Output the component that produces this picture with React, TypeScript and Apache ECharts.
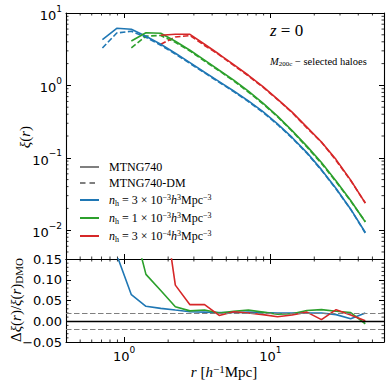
import React, { useEffect, useRef } from "react";
import * as echarts from "echarts";

// radial bins r [h^-1 Mpc]
const rBins = [0.71, 0.89, 1.12, 1.41, 1.78, 2.24, 2.82, 3.55, 4.47, 5.62, 7.08, 8.91, 11.2, 14.1, 17.8, 22.4, 28.2, 35.5, 44.7];

// xi(r), MTNG740 (solid)
const blueXi = [4.3, 6.15, 5.96, 4.77, 3.7, 2.78, 2.06, 1.52, 1.127, 0.836, 0.612, 0.434, 0.294, 0.191, 0.118, 0.0686, 0.0377, 0.0195, 0.0093];
const greenXi = [null, null, 4.11, 5.33, 5.25, 4.07, 3.06, 2.23, 1.62, 1.18, 0.832, 0.568, 0.376, 0.237, 0.145, 0.0859, 0.0477, 0.0257, 0.013];
const redXi = [null, null, null, null, 4.92, 5.08, 5.08, 3.7, 2.69, 1.93, 1.38, 0.959, 0.645, 0.427, 0.265, 0.165, 0.0944, 0.0492, 0.0237];

// xi(r), MTNG740-DM (dashed)
const blueXiDM = [3.28, 5.3, 5.6, 4.6, 3.59, 2.71, 2.01, 1.49, 1.104, 0.819, 0.599, 0.425, 0.288, 0.187, 0.116, 0.0673, 0.0371, 0.0194, 0.0091];
const greenXiDM = [null, null, 3.29, 4.79, 4.89, 3.93, 2.99, 2.17, 1.59, 1.15, 0.81, 0.556, 0.37, 0.233, 0.141, 0.0836, 0.0466, 0.0252, 0.0131];
const redXiDM = [null, null, null, null, 3.7, 4.67, 4.88, 3.56, 2.65, 1.89, 1.35, 0.944, 0.638, 0.421, 0.259, 0.164, 0.0918, 0.0485, 0.0237];

// relative difference Δξ/ξ_DMO
const blueRatio = [0.31, 0.16, 0.064, 0.036, 0.031, 0.027, 0.023, 0.022, 0.021, 0.021, 0.022, 0.021, 0.02, 0.02, 0.02, 0.02, 0.016, 0.006, 0.02];
const greenRatio = [null, null, 0.25, 0.113, 0.074, 0.035, 0.025, 0.027, 0.02, 0.024, 0.027, 0.022, 0.017, 0.018, 0.026, 0.028, 0.024, 0.021, -0.006];
const redRatio = [null, null, null, null, 0.33, 0.087, 0.04, 0.04, 0.014, 0.023, 0.02, 0.016, 0.011, 0.015, 0.022, 0.004, 0.028, 0.015, 0.001];

// reference lines in the lower panel
const zeroLine = 0;
const bandLines = [0.02, -0.02];

// minor tick positions
const xMinorTicks = [0.5, 0.6, 0.7, 0.8, 0.9, 2, 3, 4, 5, 6, 7, 8, 9, 20, 30, 40, 50];
const yMinorTicks = [0.005, 0.006, 0.007, 0.008, 0.009, 0.02, 0.03, 0.04, 0.05, 0.06, 0.07, 0.08, 0.09, 0.2, 0.3, 0.4, 0.5, 0.6, 0.7, 0.8, 0.9, 2, 3, 4, 5, 6, 7, 8, 9];
const ratioMinorTicks = [-0.04, -0.03, -0.02, -0.01, 0.01, 0.02, 0.03, 0.04, 0.06, 0.07, 0.08, 0.09, 0.11, 0.12, 0.13, 0.14];

const legendNames = ["MTNG740", "MTNG740-DM", "nh3e-3", "nh1e-3", "nh3e-4"];
const legendLabels: Record<string, string> = {
  "MTNG740": "{t|MTNG740}",
  "MTNG740-DM": "{t|MTNG740-DM}",
  "nh3e-3": "{i|n}{sub|h}{t| = 3 × 10}{sup|−3}{i|h}{sup|3}{t|Mpc}{sup|−3}",
  "nh1e-3": "{i|n}{sub|h}{t| = 1 × 10}{sup|−3}{i|h}{sup|3}{t|Mpc}{sup|−3}",
  "nh3e-4": "{i|n}{sub|h}{t| = 3 × 10}{sup|−4}{i|h}{sup|3}{t|Mpc}{sup|−3}",
};

const BLUE = "#1f77b4";
const GREEN = "#2ca02c";
const RED = "#d62728";
const GRAY = "#7f7f7f";
const SERIF = "'Liberation Serif', 'DejaVu Serif', serif";
const SANS = "'DejaVu Sans', sans-serif";

const pairs = (ys: (number | null)[]) =>
  rBins.map((r, i) => [r, ys[i]]).filter((p) => p[1] !== null);

const pow10 = (v: number) => {
  const e = Math.round(Math.log10(v));
  return `{b|10}{s|${e < 0 ? "−" + -e : e}}`;
};

const tickRich = {
  b: { fontFamily: SANS, fontSize: 13, color: "#000", lineHeight: 18, verticalAlign: "bottom" },
  s: { fontFamily: SANS, fontSize: 9, color: "#000", lineHeight: 10, verticalAlign: "top" },
};

const serifRich = (size: number) => ({
  t: { fontFamily: SERIF, fontSize: size, color: "#000", lineHeight: size + 2 },
  i: { fontFamily: SERIF, fontSize: size, fontStyle: "italic", color: "#000", lineHeight: size + 2 },
  sup: { fontFamily: SERIF, fontSize: Math.round(size * 0.7), color: "#000", lineHeight: Math.round(size * 0.75), verticalAlign: "top" },
  sub: { fontFamily: SERIF, fontSize: Math.round(size * 0.7), color: "#000", lineHeight: Math.round(size * 0.5), verticalAlign: "bottom" },
});

const axisLine = { show: true, onZero: false, lineStyle: { color: "#000", width: 1.1 } };
const axisTick = { show: true, inside: true, length: 5, lineStyle: { color: "#000", width: 1 } };

const tickLine = (x1: number, y1: number, x2: number, y2: number) => ({
  type: "line",
  shape: { x1, y1, x2, y2 },
  style: { stroke: "#000", lineWidth: 0.8 },
});

const xMinorSeries = (xi: number, yi: number, yRef: number) => ({
  type: "custom",
  xAxisIndex: xi,
  yAxisIndex: yi,
  silent: true,
  data: xMinorTicks.map((v) => [v, yRef]),
  renderItem: (params: any, api: any) => {
    const x = api.coord([api.value(0), yRef])[0];
    const cs = params.coordSys;
    return {
      type: "group",
      children: [tickLine(x, cs.y, x, cs.y + 2.5), tickLine(x, cs.y + cs.height, x, cs.y + cs.height - 2.5)],
    };
  },
});

const yMinorSeries = (xi: number, yi: number, ticks: number[]) => ({
  type: "custom",
  xAxisIndex: xi,
  yAxisIndex: yi,
  silent: true,
  data: ticks.map((v) => [1, v]),
  renderItem: (params: any, api: any) => {
    const y = api.coord([1, api.value(1)])[1];
    const cs = params.coordSys;
    return {
      type: "group",
      children: [tickLine(cs.x, y, cs.x + 2.5, y), tickLine(cs.x + cs.width, y, cs.x + cs.width - 2.5, y)],
    };
  },
});

const lineSeries = (name: string, data: any[], color: string, dashed: boolean, xi: number, yi: number) => ({
  type: "line",
  name,
  xAxisIndex: xi,
  yAxisIndex: yi,
  data,
  symbol: "none",
  lineStyle: { color, width: 1.6, type: dashed ? [5.5, 2.5] : "solid" },
  itemStyle: { color },
  z: dashed ? 3 : 4,
});

const option: any = {
  animation: false,
  backgroundColor: "#fff",
  grid: [
    { left: 66, top: 13, width: 318, height: 246 },
    { left: 66, top: 259, width: 318, height: 83 },
  ],
  xAxis: [
    { gridIndex: 0, type: "log", min: 0.4, max: 60, position: "bottom", axisLine, axisTick, axisLabel: { show: false }, splitLine: { show: false } },
    { gridIndex: 0, type: "log", min: 0.4, max: 60, position: "top", axisLine, axisTick, axisLabel: { show: false }, splitLine: { show: false } },
    {
      gridIndex: 1, type: "log", min: 0.4, max: 60, position: "bottom", axisLine, axisTick, splitLine: { show: false },
      axisLabel: { show: true, formatter: pow10, rich: tickRich, margin: 3, showMinLabel: false, showMaxLabel: false },
    },
    { gridIndex: 1, type: "log", min: 0.4, max: 60, position: "top", axisLine, axisTick, axisLabel: { show: false }, splitLine: { show: false } },
  ],
  yAxis: [
    {
      gridIndex: 0, type: "log", min: 0.004, max: 10, position: "left", axisLine, axisTick, splitLine: { show: false },
      axisLabel: { show: true, formatter: pow10, rich: tickRich, margin: 4, showMinLabel: false },
    },
    { gridIndex: 0, type: "log", min: 0.004, max: 10, position: "right", axisLine, axisTick, axisLabel: { show: false }, splitLine: { show: false } },
    {
      gridIndex: 1, type: "value", min: -0.05, max: 0.15, interval: 0.05, position: "left", axisLine, axisTick, splitLine: { show: false },
      axisLabel: {
        show: true, margin: 4, fontFamily: SANS, fontSize: 13, color: "#000",
        formatter: (v: number) => (v < -1e-9 ? "−" + Math.abs(v).toFixed(2) : Math.abs(v).toFixed(2)),
      },
    },
    { gridIndex: 1, type: "value", min: -0.05, max: 0.15, interval: 0.05, position: "right", axisLine, axisTick, axisLabel: { show: false }, splitLine: { show: false } },
  ],
  legend: {
    data: legendNames,
    orient: "vertical",
    left: 79,
    top: 161,
    itemWidth: 19,
    itemHeight: 10,
    itemGap: 4,
    padding: 0,
    selectedMode: false,
    itemStyle: { opacity: 0 },
    formatter: (name: string) => legendLabels[name],
    textStyle: { fontFamily: SERIF, fontSize: 12, color: "#000", padding: [0, 0, 0, 5], rich: serifRich(12) },
  },
  series: [
    // legend-only proxies
    { type: "line", name: "MTNG740", xAxisIndex: 0, yAxisIndex: 0, data: [], symbol: "none", lineStyle: { color: GRAY, width: 1.3 }, itemStyle: { color: GRAY } },
    { type: "line", name: "MTNG740-DM", xAxisIndex: 0, yAxisIndex: 0, data: [], symbol: "none", lineStyle: { color: GRAY, width: 1.3, type: [5.5, 4] }, itemStyle: { color: GRAY } },
    // upper panel
    lineSeries("nh3e-3", pairs(blueXi), BLUE, false, 0, 0),
    lineSeries("nh3e-3", pairs(blueXiDM), BLUE, true, 0, 0),
    lineSeries("nh1e-3", pairs(greenXi), GREEN, false, 0, 0),
    lineSeries("nh1e-3", pairs(greenXiDM), GREEN, true, 0, 0),
    lineSeries("nh3e-4", pairs(redXi), RED, false, 0, 0),
    lineSeries("nh3e-4", pairs(redXiDM), RED, true, 0, 0),
    // lower panel reference lines
    {
      type: "line", name: "ref", xAxisIndex: 2, yAxisIndex: 2, data: [], symbol: "none",
      markLine: {
        silent: true, symbol: "none", label: { show: false },
        data: [
          { yAxis: zeroLine, lineStyle: { color: "#000", width: 1.3, type: "solid" } },
          ...bandLines.map((v) => ({ yAxis: v, lineStyle: { color: GRAY, width: 1.1, type: [5.5, 2.5] } })),
        ],
      },
    },
    lineSeries("d-blue", pairs(blueRatio), BLUE, false, 2, 2),
    lineSeries("d-green", pairs(greenRatio), GREEN, false, 2, 2),
    lineSeries("d-red", pairs(redRatio), RED, false, 2, 2),
    // minor ticks
    xMinorSeries(0, 0, 1),
    yMinorSeries(0, 0, yMinorTicks),
    xMinorSeries(2, 2, 0),
    yMinorSeries(2, 2, ratioMinorTicks),
  ],
  graphic: [
    { type: "text", x: 270, y: 30, style: { text: "{i|z}{t| = 0}", rich: serifRich(17), verticalAlign: "middle", align: "left" } },
    { type: "text", x: 270, y: 61, style: { text: "{i|M}{sub|200c}{t| − selected haloes}", rich: serifRich(10.5), verticalAlign: "middle", align: "left" } },
    { type: "text", x: 224, y: 372, style: { text: "{i|r}{t| [}{i|h}{sup|−1}{t|Mpc]}", rich: serifRich(15), verticalAlign: "middle", align: "center" } },
    { type: "text", x: 25, y: 137, rotation: Math.PI / 2, style: { text: "{i|ξ}{t|(}{i|r}{t|)}", rich: serifRich(15), verticalAlign: "middle", align: "center" } },
    { type: "text", x: 16, y: 300, rotation: Math.PI / 2, style: { text: "{t|Δ}{i|ξ}{t|(}{i|r}{t|)/}{i|ξ}{t|(}{i|r}{t|)}{sub|DMO}", rich: serifRich(15), verticalAlign: "middle", align: "center" } },
  ],
};

export default function App() {
  const ref = useRef<HTMLDivElement>(null);
  useEffect(() => {
    const chart = echarts.init(ref.current!, null, { renderer: "svg" });
    chart.setOption(option);
    return () => chart.dispose();
  }, []);
  return <div ref={ref} style={{ position: "fixed", left: 0, top: 0, width: 391, height: 388, background: "#fff" }} />;
}
